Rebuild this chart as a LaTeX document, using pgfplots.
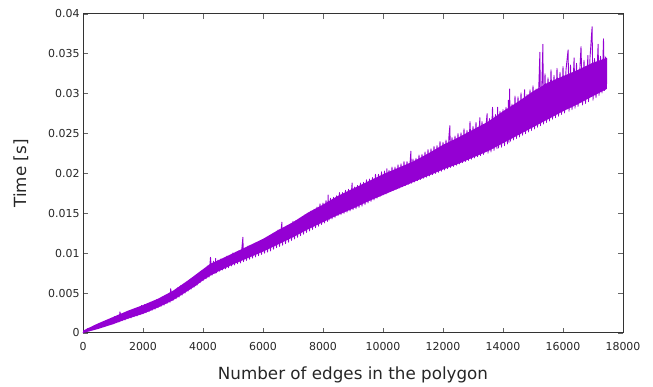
\documentclass[border=0pt]{standalone}
\usepackage{pgfplots}
\pgfplotsset{compat=1.18}
\usepgfplotslibrary{fillbetween}
\usepackage{fontspec}
\setmainfont{DejaVu Sans}
\definecolor{gpviolet}{HTML}{9400D3}
\begin{document}
\begin{tikzpicture}
\begin{axis}[
  scale only axis,
  width=540bp, height=319bp,
  xmin=0, xmax=18000, ymin=0, ymax=0.04,
  xtick={0,2000,...,18000},
  ytick={0,0.005,...,0.04},
  scaled x ticks=false, scaled y ticks=false,
  /pgf/number format/assume math mode=true,
  xticklabel style={/pgf/number format/fixed,/pgf/number format/set thousands separator={}, yshift=-6bp},
  yticklabel style={/pgf/number format/fixed,/pgf/number format/precision=3},
  tick label style={font=\fontsize{11}{13}\selectfont, text=black!85},
  label style={font=\fontsize{16.8}{19}\selectfont, text=black!85},
  xlabel={Number of edges in the polygon},
  ylabel={Time [s]},
  xlabel style={yshift=-9bp},
  ylabel style={yshift=13bp},
  axis line style={black!80, line width=1bp},
  tick style={black!60, line width=0.8bp},
  tick align=inside,
  major tick length=5bp,
  clip=false,
]
\addplot[name path=lo, draw=none] table {
x y
0 0.0000
500 0.0005
1000 0.0011
1500 0.0018
2000 0.0024
2500 0.0032
3000 0.0041
3500 0.0053
3750 0.0059
4000 0.0066
4250 0.0072
4500 0.0077
5000 0.0086
5500 0.0094
6000 0.0102
6500 0.0111
7000 0.0120
7500 0.0130
8000 0.0139
8500 0.0148
9000 0.0156
9500 0.0165
10000 0.0173
10500 0.0181
11000 0.0189
11500 0.0197
12000 0.0205
12500 0.0212
13000 0.0220
13500 0.0228
14000 0.0238
14500 0.0248
15000 0.0258
15500 0.0268
16000 0.0278
16500 0.0287
17000 0.0297
17460 0.0306
};
\addplot[name path=hi, draw=none] table {
x y
0 0.0003
500 0.0012
1000 0.0020
1500 0.0028
2000 0.0035
2500 0.0043
3000 0.0053
3500 0.0066
3750 0.0073
4000 0.0080
4250 0.0087
4500 0.0091
5000 0.0100
5500 0.0109
6000 0.0118
6500 0.0129
7000 0.0139
7500 0.0151
8000 0.0161
8500 0.0172
9000 0.0181
9500 0.0190
10000 0.0199
10500 0.0207
11000 0.0215
11500 0.0225
12000 0.0236
12500 0.0245
13000 0.0255
13500 0.0265
14000 0.0278
14500 0.0290
15000 0.0303
15500 0.0314
16000 0.0322
16500 0.0330
17000 0.0339
17460 0.0345
};
\addplot[gpviolet, draw=none] fill between[of=lo and hi];
\addplot[gpviolet, line width=0.9bp, line join=round] table {
x y
0 0.00000
50 0.00028
100 0.00012
150 0.00055
200 0.00025
250 0.00068
300 0.00038
350 0.00085
400 0.00048
450 0.00100
500 0.00060
550 0.00118
600 0.00070
650 0.00135
700 0.00085
750 0.00150
800 0.00095
850 0.00168
900 0.00108
950 0.00185
1000 0.00115
1050 0.00205
1100 0.00130
1150 0.00222
1200 0.00140
1230 0.00265
1300 0.00155
1350 0.00245
1400 0.00165
1450 0.00258
1500 0.00180
1550 0.00272
1600 0.00190
1650 0.00290
1700 0.00205
1750 0.00305
1800 0.00215
1850 0.00322
1900 0.00230
1950 0.00345
2000 0.00242
2050 0.00355
2100 0.00255
2150 0.00368
2200 0.00268
2250 0.00385
2300 0.00285
2350 0.00398
2400 0.00300
2450 0.00415
2500 0.00318
2550 0.00430
2600 0.00335
2650 0.00450
2700 0.00350
2750 0.00470
2800 0.00370
2850 0.00490
2900 0.00385
2920 0.00555
3000 0.00410
3050 0.00535
3100 0.00430
3150 0.00565
3200 0.00450
3250 0.00590
3300 0.00475
3350 0.00610
3400 0.00500
3450 0.00635
3500 0.00525
3550 0.00660
3600 0.00550
3650 0.00690
3700 0.00575
3750 0.00720
3800 0.00600
3850 0.00745
3900 0.00630
3950 0.00775
4000 0.00655
4050 0.00805
4100 0.00680
4150 0.00840
4200 0.00700
4250 0.00950
4300 0.00725
4350 0.00900
4400 0.00745
4420 0.00935
4450 0.00755
4500 0.00915
4550 0.00775
4600 0.00930
4650 0.00790
4700 0.00940
4750 0.00805
4800 0.00965
4850 0.00820
4900 0.00975
4950 0.00840
5000 0.01005
5050 0.00855
5100 0.01015
5150 0.00870
5200 0.01030
5250 0.00880
5330 0.01200
5350 0.00895
5400 0.01060
5450 0.00910
5500 0.01090
5550 0.00925
5600 0.01085
5650 0.00940
5700 0.01110
5750 0.00955
5800 0.01120
5850 0.00970
5900 0.01150
5950 0.00985
6000 0.01160
6050 0.01000
6100 0.01185
6150 0.01015
6200 0.01200
6250 0.01030
6300 0.01230
6350 0.01050
6400 0.01240
6450 0.01070
6500 0.01290
6550 0.01085
6630 0.01390
6650 0.01100
6700 0.01310
6750 0.01120
6800 0.01325
6850 0.01140
6900 0.01350
6950 0.01160
7000 0.01400
7050 0.01180
7100 0.01410
7150 0.01200
7200 0.01420
7250 0.01220
7300 0.01450
7350 0.01240
7400 0.01480
7450 0.01260
7500 0.01500
7550 0.01280
7600 0.01530
7650 0.01300
7700 0.01550
7750 0.01320
7800 0.01580
7850 0.01340
7900 0.01620
7950 0.01360
8000 0.01630
8050 0.01380
8100 0.01660
8150 0.01400
8170 0.01730
8200 0.01415
8250 0.01690
8300 0.01430
8350 0.01700
8400 0.01450
8450 0.01720
8500 0.01470
8550 0.01760
8600 0.01485
8650 0.01760
8700 0.01500
8750 0.01790
8800 0.01515
8850 0.01800
8900 0.01530
8970 0.01880
9000 0.01545
9050 0.01830
9100 0.01560
9150 0.01850
9200 0.01575
9250 0.01880
9300 0.01590
9350 0.01890
9400 0.01610
9450 0.01920
9500 0.01630
9550 0.01930
9600 0.01650
9650 0.01950
9700 0.01670
9750 0.01990
9800 0.01690
9850 0.01990
9900 0.01710
9950 0.02020
10000 0.01730
10050 0.02030
10100 0.01745
10130 0.02060
10150 0.01760
10200 0.02040
10250 0.01775
10300 0.02080
10350 0.01790
10400 0.02080
10450 0.01805
10500 0.02110
10550 0.01820
10600 0.02120
10650 0.01835
10700 0.02150
10750 0.01850
10800 0.02150
10850 0.01865
10930 0.02280
10950 0.01880
11000 0.02180
11050 0.01895
11100 0.02190
11150 0.01910
11200 0.02230
11250 0.01925
11300 0.02240
11350 0.01940
11400 0.02270
11450 0.01955
11500 0.02300
11550 0.01970
11600 0.02310
11650 0.01985
11700 0.02340
11750 0.02000
11800 0.02350
11850 0.02015
11900 0.02400
11950 0.02030
12000 0.02390
12050 0.02045
12100 0.02420
12150 0.02060
12200 0.02480
12230 0.02600
12250 0.02075
12300 0.02450
12350 0.02090
12400 0.02470
12450 0.02105
12500 0.02500
12550 0.02120
12600 0.02510
12650 0.02135
12700 0.02560
12750 0.02150
12800 0.02540
12850 0.02165
12900 0.02650
12950 0.02180
13000 0.02590
13050 0.02195
13100 0.02640
13150 0.02210
13230 0.02700
13250 0.02225
13300 0.02650
13350 0.02240
13470 0.02750
13500 0.02255
13550 0.02690
13600 0.02270
13650 0.02830
13700 0.02290
13750 0.02740
13800 0.02310
13820 0.02830
13850 0.02320
13900 0.02780
13950 0.02330
14000 0.02800
14050 0.02350
14100 0.02830
14150 0.02370
14180 0.02920
14200 0.02390
14220 0.03060
14250 0.02405
14300 0.02870
14350 0.02420
14400 0.02970
14450 0.02440
14500 0.02960
14550 0.02460
14600 0.03010
14650 0.02480
14720 0.03050
14750 0.02500
14800 0.02990
14850 0.02520
14900 0.03050
14950 0.02540
15000 0.03100
15050 0.02560
15100 0.03060
15150 0.02580
15230 0.03520
15250 0.02600
15300 0.03180
15330 0.03620
15350 0.02620
15400 0.03250
15450 0.02640
15500 0.03200
15550 0.02660
15600 0.03300
15650 0.02680
15700 0.03230
15750 0.02700
15800 0.03320
15850 0.02720
15900 0.03270
15950 0.02740
16000 0.03340
16050 0.02760
16100 0.03300
16170 0.03550
16200 0.02780
16250 0.03360
16300 0.02800
16370 0.03450
16400 0.02820
16450 0.03380
16500 0.02840
16600 0.03590
16650 0.02860
16700 0.03420
16750 0.02880
16830 0.03480
16850 0.02900
16900 0.03450
16970 0.03840
17000 0.02920
17050 0.03440
17100 0.02950
17170 0.03620
17200 0.02980
17250 0.03470
17300 0.03010
17350 0.03690
17380 0.03040
17420 0.03460
17450 0.03070
17460 0.03440
};
\end{axis}
\path (current axis.south west) ++(-83bp,-52bp) coordinate (bl);
\path (current axis.north east) ++(30bp,14bp) coordinate (tr);
\path (bl) rectangle (tr);
\end{tikzpicture}
\end{document}
